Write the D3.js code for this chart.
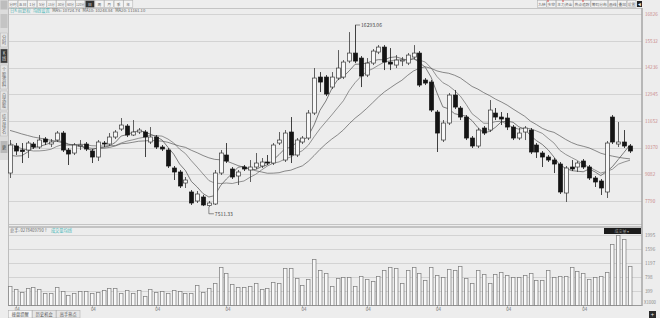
<!DOCTYPE html>
<html>
<head>
<meta charset="utf-8">
<script src="https://cdn.jsdelivr.net/npm/d3@7"></script>
<style>
  body { margin: 0; background: #ececec; overflow: hidden; }
  svg { display: block; font-family: "Noto Sans CJK SC", "Noto Sans", sans-serif; }
</style>
</head>
<body>
<script>
    const W = 660, H = 318;

    // daily candles
    const opens = [
        9142,10447,10253,10253,10543,10398,10785,10543,10736,11074,
        10253,10108,10447,10543,10205,9915,10591,10543,10881,11268,
        11413,10978,11123,11123,10640,10881,10398,10253,9384,9191,
        8659,8225,7790,7983,7570,7645,9142,10012,9336,8998,
        9432,9287,9432,9481,9674,9625,10591,9770,11123,10012,
        10640,10833,12040,13779,13779,13296,13731,13779,14552,14938,
        14697,13876,14455,14987,15228,14504,14359,14552,14455,14745,
        14938,13634,13538,12089,10736,11557,12910,12282,11847,10833,
        10447,11316,11219,12040,11847,11799,11364,10833,11123,11219,
        10495,10108,9915,9770,9577,8176,9432,9432,9722,9432,
        8901,8756,8225,11847,10543,10640,10447
    ];
    const highs = [
        10736,10591,10591,10688,10640,10978,10881,10785,11171,11171,
        10350,10591,10736,10640,10302,10736,10688,11074,11219,11799,
        11509,11702,11316,11219,11364,10978,10495,10350,9481,9287,
        8949,8321,8273,8080,7790,9287,10253,10591,9432,9287,
        9529,9770,10108,9867,10012,10591,11123,11219,11847,10833,
        10930,12185,14214,14021,13876,14021,15083,14600,15953,16293.06,
        14794,14697,15132,15325,15325,15180,14842,14745,14938,15325,
        15035,13731,13634,12185,11702,13006,13151,12379,11944,10930,
        11316,11413,12668,12282,12089,12040,11461,11316,11413,11316,
        10591,10205,10012,9867,9674,9481,9770,9722,9819,9529,
        8998,8853,10688,11944,11606,11219,10543
    ];
    const lows = [
        8901,10012,9625,9867,10302,10302,10495,10398,10640,10157,
        9529,10012,10253,10205,9625,9722,10398,10447,10785,11171,
        10881,10930,11026,9915,10543,10302,10205,9384,8804,8418,
        8418,7597,7693,7545,7511.33,7597,9046,9625,8853,8563,
        9239,8708,9336,9384,9529,9529,10495,9674,9625,9915,
        10543,10736,11944,13055,12862,13200,13634,13683,14455,14455,
        13296,13779,14359,14890,14117,14117,14214,14311,14359,14649,
        13296,13393,12089,10157,10640,11461,12234,11702,10736,10350,
        10350,10978,11123,11702,11461,11219,10736,10736,10736,10060,
        9867,9432,9674,9142,8128,7742,9239,9191,9336,8804,
        8466,8080,7935,10543,10398,10350,10108
    ];
    const closes = [
        10495,10205,10180,10591,10398,10736,10640,10640,11074,10253,
        10060,10495,10495,10302,9915,10640,10543,10881,11123,11461,
        10978,11123,11219,10881,10881,10398,10302,9481,9191,8515,
        8804,7693,8128,7597,7693,9142,10108,9722,8949,9191,
        9336,9432,9625,9674,9625,10495,10736,11074,10012,10736,
        10833,12040,13731,13538,12958,13779,14214,14504,14938,14552,
        13828,14455,15035,15228,14504,14407,14600,14600,14842,14938,
        13393,13489,12185,11074,11557,12910,12330,11847,10833,10447,
        11219,11074,12185,11847,11751,11364,10833,11074,11316,10157,
        10157,9915,9770,9577,8225,9384,9336,9625,9432,8901,
        8708,8418,10591,10640,10640,10447,10205
    ];
    // volume, x1000
    const volumes = [
        543,449,380,477,506,449,351,334,506,400,
        286,334,409,391,351,380,429,477,477,351,
        429,334,429,257,449,371,409,351,429,391,
        334,351,571,380,477,620,1094,923,591,523,
        523,543,620,449,477,649,620,1049,1049,763,
        571,734,1314,1000,906,551,763,791,809,543,
        837,734,686,837,1000,1086,1049,620,1000,1086,
        923,714,1077,849,791,1029,1000,1106,763,620,
        1000,886,620,886,943,857,791,809,857,923,
        714,714,1000,791,837,837,1094,980,923,743,
        809,829,951,1743,2000,1886,1123
    ];
    // closes before the first visible candle (only feed the moving averages)
    const priorCloses = [11800,11950,12100,11900,11750,11600,11850,12000,11700,11500,
                         11650,11400,11200,10900,10700,10400,10100,9700,9300];

    const priceTicks = [16826, 15532, 14236, 12945, 11652, 10370, 9082, 7790];
    const volTicks = [1995, 1596, 1197, 798, 399];
    const dateIdx = [1, 14, 25, 37, 50, 61, 73, 85, 98];
    const dateLabels = ["04", "04", "04", "04", "04", "04", "04", "04", "04"];
    const maPeriods = [5, 10, 20];
    const maLegend = ["MA5: 10724.74", "MA10: 10248.84", "MA20: 11161.10"];

    const leftTools = ["分时","五日","1分","5分","15分","30分","60分","120分","日","周","月","季","年"];
    const rightTools = ["九转","多空","主力资金","热点追踪","筹码分布","画线","叠加","设置"];
    const sideTabs = ["分时","K线","个股资料","自选股","综合排名"];
    const bottomTabs = ["操盘提醒","历史机会","高手热点"];

    const n = closes.length;
    const x = d3.scaleLinear().domain([0, n - 1]).range([10, 630]);
    const y = d3.scaleLinear().domain([7790, 16826]).range([201, 14]);
    const yv = d3.scaleLinear().domain([0, 1995]).range([305, 235]);
    const bw = 4;

    const svg = d3.select("body").append("svg").attr("width", W).attr("height", H);
    svg.append("rect").attr("width", W).attr("height", H).attr("fill", "#ededed");

    // place a row of texts one after the other
    function textRow(items, x0, y0, size, gap) {
        let cx = x0;
        items.forEach(([t, col]) => {
            const el = svg.append("text").attr("x", cx).attr("y", y0)
                .attr("font-size", size).attr("fill", col).text(t);
            cx += el.node().getComputedTextLength() + gap;
        });
    }

    // grids
    svg.selectAll("line.pgrid").data(priceTicks).enter().append("line")
        .attr("x1", 9).attr("x2", 642)
        .attr("y1", d => Math.round(y(d)) + 0.5).attr("y2", d => Math.round(y(d)) + 0.5)
        .attr("stroke", "#d3d3d3");
    svg.selectAll("text.plab").data(priceTicks).enter().append("text")
        .attr("x", 645).attr("y", d => y(d) + 1.8)
        .attr("font-size", 4.6).attr("fill", "#c98a8a").text(d => d);

    svg.selectAll("line.vgrid").data(volTicks).enter().append("line")
        .attr("x1", 9).attr("x2", 642)
        .attr("y1", d => Math.round(yv(d)) + 0.5).attr("y2", d => Math.round(yv(d)) + 0.5)
        .attr("stroke", "#d3d3d3");
    svg.selectAll("text.vlab").data(volTicks).enter().append("text")
        .attr("x", 645).attr("y", d => yv(d) + 1.8)
        .attr("font-size", 4.6).attr("fill", "#8a8a8a").text(d => d);
    svg.append("text").attr("x", 644).attr("y", 303.5)
        .attr("font-size", 4.3).attr("fill", "#8a8a8a").text("X1000");

    // frame
    svg.append("line").attr("x1", 9).attr("x2", 642).attr("y1", 8.5).attr("y2", 8.5).attr("stroke", "#c4c4c4");
    svg.append("line").attr("x1", 8.5).attr("x2", 8.5).attr("y1", 8).attr("y2", 306).attr("stroke", "#bdbdbd");
    svg.append("line").attr("x1", 9).attr("x2", 642).attr("y1", 224.5).attr("y2", 224.5).attr("stroke", "#c4c4c4");
    svg.append("line").attr("x1", 9).attr("x2", 642).attr("y1", 227).attr("y2", 227).attr("stroke", "#b5b5b5").attr("stroke-width", 1.5);
    svg.append("line").attr("x1", 9).attr("x2", 642).attr("y1", 305.5).attr("y2", 305.5).attr("stroke", "#9a9a9a");
    svg.append("line").attr("x1", 642).attr("x2", 642).attr("y1", 8).attr("y2", 306).attr("stroke", "#a5a5a5").attr("stroke-width", 1.5);

    // volume bars
    svg.selectAll("rect.vol").data(volumes).enter().append("rect")
        .attr("x", (d, i) => Math.round(x(i) - bw / 2) + 0.5)
        .attr("y", d => Math.round(yv(d)) + 0.5)
        .attr("width", bw - 0.5)
        .attr("height", d => 305 - Math.round(yv(d)))
        .attr("fill", "#f8f8f8").attr("stroke", "#7a7a7a").attr("stroke-width", 0.7);

    // moving averages
    const allCloses = priorCloses.concat(closes);
    const off = priorCloses.length;
    const maColors = ["#4a4a4a", "#6a6a6a", "#5a5a5a"];
    maPeriods.forEach((p, k) => {
        const vals = closes.map((c, i) => d3.mean(allCloses.slice(i + off - p + 1, i + off + 1)));
        svg.append("path").datum(vals)
            .attr("d", d3.line().x((d, i) => x(i)).y(d => y(d)))
            .attr("fill", "none").attr("stroke", maColors[k]).attr("stroke-width", 0.7);
    });

    // candles
    const candles = d3.range(n).map(i => ({ i, o: opens[i], h: highs[i], l: lows[i], c: closes[i] }));
    const cg = svg.append("g");
    candles.forEach(d => {
        const cx = Math.round(x(d.i)) + 0.5;
        const top = y(Math.max(d.o, d.c)), bot = y(Math.min(d.o, d.c));
        const up = d.c >= d.o;
        const col = up ? "#3a3a3a" : "#141414";
        cg.append("line").attr("x1", cx).attr("x2", cx).attr("y1", y(d.h)).attr("y2", top).attr("stroke", col).attr("stroke-width", 0.8);
        cg.append("line").attr("x1", cx).attr("x2", cx).attr("y1", bot).attr("y2", y(d.l)).attr("stroke", col).attr("stroke-width", 0.8);
        cg.append("rect")
            .attr("x", cx - bw / 2).attr("y", top)
            .attr("width", bw).attr("height", Math.max(0.8, bot - top))
            .attr("fill", up ? "#f7f7f7" : "#141414")
            .attr("stroke", col).attr("stroke-width", 0.7);
    });

    // high / low markers
    const hiI = d3.maxIndex(highs), loI = d3.minIndex(lows);
    const hx = x(hiI), hy = y(highs[hiI]);
    svg.append("path").attr("d", `M${hx},${hy}H${hx + 5}`).attr("stroke", "#444").attr("stroke-width", 0.6);
    svg.append("text").attr("x", hx + 6).attr("y", hy + 1.8).attr("font-size", 5).attr("fill", "#444").text(highs[hiI].toFixed(2));
    const lx = x(loI), ly = y(lows[loI]);
    svg.append("path").attr("d", `M${lx},${ly}V${ly + 7}H${lx + 5}`).attr("fill", "none").attr("stroke", "#444").attr("stroke-width", 0.6);
    svg.append("text").attr("x", lx + 6).attr("y", ly + 8.8).attr("font-size", 5).attr("fill", "#444").text(lows[loI].toFixed(2));

    // legends
    textRow([["日K 前复权", "#5fb5b5"], ["均线设置", "#48b8b8"]].concat(maLegend.map(t => [t, "#666"])),
        10, 12.3, 4.2, 2.5);
    textRow([["总手: 0278409790↑", "#666"], ["成交量均线", "#48b8b8"]], 10, 232.3, 4.2, 3);

    // dark selector box on the volume panel
    svg.append("rect").attr("x", 604).attr("y", 228).attr("width", 37).attr("height", 6).attr("fill", "#1c1c1c");
    svg.append("text").attr("x", 622).attr("y", 232.6).attr("text-anchor", "middle").attr("font-size", 4).attr("fill", "#999").text("成交量 ▾");

    // date axis
    svg.selectAll("line.dt").data(dateIdx).enter().append("line")
        .attr("x1", d => Math.round(x(d)) + 0.5).attr("x2", d => Math.round(x(d)) + 0.5)
        .attr("y1", 305).attr("y2", 308).attr("stroke", "#999").attr("stroke-width", 0.6);
    svg.selectAll("text.dl").data(dateIdx).enter().append("text")
        .attr("x", d => x(d) + 1.5).attr("y", 310.5).attr("text-anchor", "middle")
        .attr("font-size", 4.5).attr("fill", "#777").text((d, i) => dateLabels[i]);

    // top toolbar
    const tw = 9.6;
    const tg = svg.append("g");
    leftTools.forEach((t, i) => {
        const active = t === "日";
        tg.append("rect").attr("x", 8.5 + i * tw).attr("y", 0.5).attr("width", tw - 0.5).attr("height", 7)
            .attr("fill", active ? "#333" : "#f3f3f3").attr("stroke", "#aaa").attr("stroke-width", 0.5);
        tg.append("text").attr("x", 8.5 + i * tw + tw / 2 - 0.25).attr("y", 5.5).attr("text-anchor", "middle")
            .attr("font-size", t.length > 2 ? 3.2 : 3.8).attr("fill", active ? "#eee" : "#666").text(t);
    });
    // right toolbar: fit the buttons into 537..636
    const rChars = d3.sum(rightTools, t => t.length);
    const unit = (636 - 537 - rightTools.length * 1.5) / rChars;
    let rx = 537;
    rightTools.forEach(t => {
        const w = t.length * unit + 1.5;
        tg.append("rect").attr("x", rx + 0.5).attr("y", 0.5).attr("width", w - 0.5).attr("height", 7)
            .attr("fill", "#f3f3f3").attr("stroke", "#aaa").attr("stroke-width", 0.5);
        tg.append("text").attr("x", rx + w / 2 + 0.25).attr("y", 5.5).attr("text-anchor", "middle")
            .attr("font-size", Math.min(3.8, unit * 0.95)).attr("fill", "#666").text(t);
        rx += w;
    });
    tg.append("rect").attr("x", rx + 1).attr("y", 1).attr("width", 5).attr("height", 6).attr("fill", "#222");
    tg.append("text").attr("x", rx + 3.5).attr("y", 5.5).attr("text-anchor", "middle").attr("font-size", 3.5).attr("fill", "#eee").text("◀");
    [548, 563, 583].forEach(px => tg.append("circle").attr("cx", px).attr("cy", 1).attr("r", 0.8).attr("fill", "#d33"));

    // left sidebar
    svg.append("rect").attr("x", 0).attr("y", 0).attr("width", 8).attr("height", 160).attr("fill", "#dcdcdc");
    svg.append("rect").attr("x", 0.5).attr("y", 0.5).attr("width", 7).attr("height", 9).attr("fill", "#bdbdbd");
    svg.append("rect").attr("x", 0.5).attr("y", 14).attr("width", 7).attr("height", 14).attr("fill", "#c4c4c4");
    let sy = 33;
    sideTabs.forEach((t, i) => {
        const h = t.length * 5 + 5;
        const active = t === "K线";
        svg.append("rect").attr("x", 0.5).attr("y", sy).attr("width", 7).attr("height", h - 1)
            .attr("fill", active ? "#3a3a3a" : "#e4e4e4").attr("stroke", "#b0b0b0").attr("stroke-width", 0.4);
        t.split("").forEach((ch, j) => {
            svg.append("text").attr("x", 4).attr("y", sy + 6 + j * 5).attr("text-anchor", "middle")
                .attr("font-size", 4.2).attr("fill", active ? "#ddd" : "#666").text(ch);
        });
        sy += h + 1;
    });
    svg.append("rect").attr("x", 0.5).attr("y", 141).attr("width", 7).attr("height", 12).attr("fill", "#b8b8b8");
    svg.append("text").attr("x", 4).attr("y", 149).attr("text-anchor", "middle").attr("font-size", 4.2).attr("fill", "#444").text("更");

    // bottom tabs
    bottomTabs.forEach((t, i) => {
        svg.append("rect").attr("x", 8.5 + i * 24).attr("y", 310.5).attr("width", 23.5).attr("height", 7.5)
            .attr("fill", i === 0 ? "#f6f6f6" : "#e6e6e6").attr("stroke", "#aaa").attr("stroke-width", 0.5);
        svg.append("text").attr("x", 20.25 + i * 24).attr("y", 316.2).attr("text-anchor", "middle")
            .attr("font-size", 4.2).attr("fill", "#555").text(t);
    });
    svg.append("rect").attr("x", 649).attr("y", 311).attr("width", 7).attr("height", 7).attr("fill", "#2a2a2a");
    svg.append("text").attr("x", 652.5).attr("y", 316.6).attr("text-anchor", "middle").attr("font-size", 6).attr("fill", "#eee").text("+");
</script>
</body>
</html>
